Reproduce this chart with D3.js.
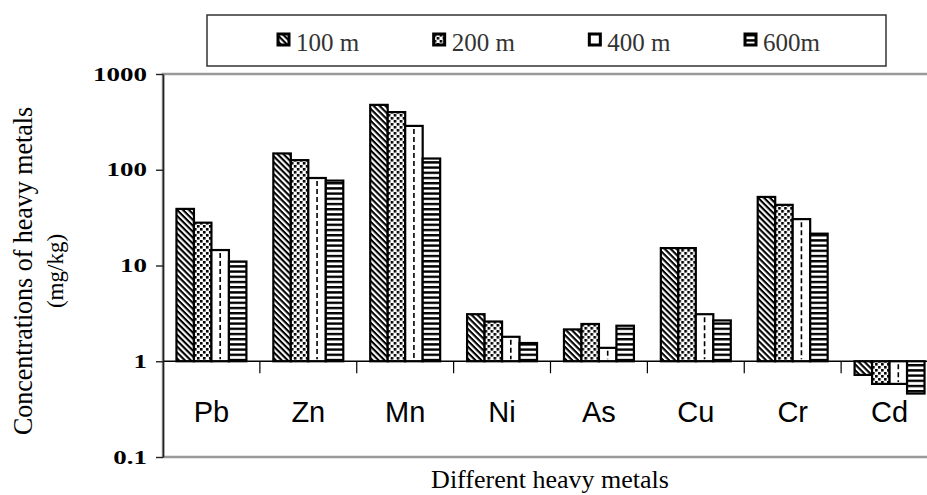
<!DOCTYPE html>
<html>
<head>
<meta charset="utf-8">
<script src="https://cdn.jsdelivr.net/npm/d3@7"></script>
<style>
  body { margin: 0; background: #fff; overflow: hidden; }
  svg { display: block; }
</style>
</head>
<body>
<div id="chart"></div>
<script>
// data
const categories = ["Pb", "Zn", "Mn", "Ni", "As", "Cu", "Cr", "Cd"];
const seriesNames = ["100 m", "200 m", "400 m", "600m"];
const v100 = [39, 148, 476, 3.1, 2.15, 15.2, 52, 0.72];
const v200 = [28, 126, 400, 2.6, 2.45, 15.2, 43, 0.58];
const v400 = [14.5, 82, 287, 1.8, 1.38, 3.1, 30.5, 0.58];
const v600 = [11, 77, 131, 1.55, 2.35, 2.67, 21.5, 0.46];
const yTicks = [0.1, 1, 10, 100, 1000];

const W = 927, H = 495;
const PLOT = { left: 163, right: 938, top: 74, bottom: 457 };

const svg = d3.select("#chart").append("svg")
    .attr("width", W)
    .attr("height", H);

// fill patterns, one per series
const defs = svg.append("defs");

const p100 = defs.append("pattern").attr("id", "p100")
    .attr("patternUnits", "userSpaceOnUse")
    .attr("width", 4.2).attr("height", 4.2)
    .attr("patternTransform", "rotate(45)");
p100.append("rect").attr("width", 4.2).attr("height", 4.2).attr("fill", "#fff");
p100.append("rect").attr("width", 4.2).attr("height", 2.1).attr("fill", "#000");

const p200 = defs.append("pattern").attr("id", "p200")
    .attr("patternUnits", "userSpaceOnUse")
    .attr("width", 6).attr("height", 6);
p200.append("rect").attr("width", 6).attr("height", 6).attr("fill", "#fff");
p200.append("rect").attr("width", 2.6).attr("height", 2.6).attr("fill", "#000");
p200.append("rect").attr("x", 3).attr("y", 3).attr("width", 2.6).attr("height", 2.6).attr("fill", "#000");

const p600 = defs.append("pattern").attr("id", "p600")
    .attr("patternUnits", "userSpaceOnUse")
    .attr("width", 5).attr("height", 5.2);
p600.append("rect").attr("width", 5).attr("height", 5.2).attr("fill", "#fff");
p600.append("rect").attr("width", 5).attr("height", 2.4).attr("fill", "#000");

const fills = { "100 m": "url(#p100)", "200 m": "url(#p200)", "400 m": "#fff", "600m": "url(#p600)" };

// scales
const x = d3.scaleBand()
    .domain(categories)
    .range([PLOT.left, PLOT.right]);

const xs = d3.scaleBand()
    .domain(seriesNames)
    .range([x.bandwidth() * 0.139, x.bandwidth() * 0.861]);

const y = d3.scaleLog()
    .domain([0.1, 1000])
    .range([PLOT.bottom, PLOT.top]);

// plot area border (gray), runs off the right edge
svg.append("rect")
    .attr("x", PLOT.left)
    .attr("y", y(1000))
    .attr("width", 900)
    .attr("height", y(0.1) - y(1000))
    .attr("fill", "none")
    .attr("stroke", "#9a9a9a")
    .attr("stroke-width", 2.5);

// bars, built from the series arrays
const rows = [];
categories.forEach((c, i) => {
  [v100, v200, v400, v600].forEach((vals, j) => {
    rows.push({ cat: c, series: seriesNames[j], value: vals[i] });
  });
});

const base = y(1);
const bars = svg.append("g").selectAll("g")
    .data(rows)
    .enter()
    .append("g")
      .attr("transform", (d) => "translate(" + (x(d.cat) + xs(d.series)) + ",0)");

bars.append("rect")
    .attr("x", 0)
    .attr("y", (d) => Math.min(y(d.value), base))
    .attr("width", xs.bandwidth())
    .attr("height", (d) => Math.abs(base - y(d.value)))
    .attr("fill", (d) => fills[d.series])
    .attr("stroke", "#000")
    .attr("stroke-width", 2.2);

// dashed centre line for the 400 m bars
bars.filter((d) => d.series === "400 m")
  .append("line")
    .attr("x1", xs.bandwidth() / 2)
    .attr("x2", xs.bandwidth() / 2)
    .attr("y1", (d) => Math.min(y(d.value), base) + 3)
    .attr("y2", (d) => Math.max(y(d.value), base) - 2)
    .attr("stroke", "#000")
    .attr("stroke-width", 1.6)
    .attr("stroke-dasharray", "5,3");

// category axis, crossing at 1
svg.append("line")
    .attr("x1", PLOT.left).attr("x2", W)
    .attr("y1", base).attr("y2", base)
    .attr("stroke", "#000")
    .attr("stroke-width", 1.5);

svg.append("g").selectAll("line")
    .data(categories.slice(1))
    .enter()
    .append("line")
      .attr("x1", (d) => x(d)).attr("x2", (d) => x(d))
      .attr("y1", base).attr("y2", base + 12)
      .attr("stroke", "#000")
      .attr("stroke-width", 1.2);

svg.append("g").selectAll("text")
    .data(categories)
    .enter()
    .append("text")
      .attr("x", (d) => x(d) + x.bandwidth() / 2)
      .attr("y", 422)
      .attr("text-anchor", "middle")
      .style("font-family", "'Liberation Sans', Arial, sans-serif")
      .style("font-size", "29px")
      .text((d) => d);

// value axis
const yAxis = svg.append("g")
    .attr("transform", "translate(" + PLOT.left + ",0)")
    .call(d3.axisLeft(y)
      .tickValues(yTicks)
      .tickFormat(d3.format("~g"))
      .tickSize(7)
      .tickSizeOuter(0));

yAxis.select(".domain").attr("stroke", "#222").attr("stroke-width", 1.6);
yAxis.selectAll(".tick line").attr("stroke", "#222").attr("stroke-width", 1.4);
yAxis.selectAll(".tick text")
    .attr("x", 0)
    .attr("dy", "0.34em")
    .attr("transform", "translate(-16,0) scale(1.5,1)")
    .attr("fill", "#000")
    .style("font-family", "'Liberation Serif', 'Times New Roman', serif")
    .style("font-weight", "bold")
    .style("font-size", "18px");

// axis titles
const titleMid = 271;
svg.append("text")
    .attr("transform", "translate(32," + titleMid + ") rotate(-90)")
    .attr("text-anchor", "middle")
    .attr("textLength", 328)
    .attr("lengthAdjust", "spacingAndGlyphs")
    .style("font-family", "'Liberation Serif', 'Times New Roman', serif")
    .style("font-size", "27px")
    .text("Concentrations of heavy metals");

svg.append("text")
    .attr("transform", "translate(63," + titleMid + ") rotate(-90)")
    .attr("text-anchor", "middle")
    .style("font-family", "'Liberation Serif', 'Times New Roman', serif")
    .style("font-size", "23px")
    .text("(mg/kg)");

svg.append("text")
    .attr("x", 550)
    .attr("y", 488)
    .attr("text-anchor", "middle")
    .style("font-family", "'Liberation Serif', 'Times New Roman', serif")
    .style("font-size", "26px")
    .text("Different heavy metals");

// legend
const legend = svg.append("g");
legend.append("rect")
    .attr("x", 207).attr("y", 15)
    .attr("width", 679).attr("height", 51)
    .attr("fill", "#fff")
    .attr("stroke", "#333")
    .attr("stroke-width", 1.5);

const lx = d3.scaleLinear().domain([0, seriesNames.length - 1]).range([278, 745]);

const items = legend.selectAll("g.item")
    .data(seriesNames)
    .enter()
    .append("g")
      .attr("class", "item")
      .attr("transform", (d, i) => "translate(" + lx(i) + ",34)");

items.append("rect")
    .attr("width", 11).attr("height", 11)
    .attr("fill", (d) => fills[d])
    .attr("stroke", "#000")
    .attr("stroke-width", 3);

items.append("text")
    .attr("x", 18)
    .attr("y", 17)
    .attr("fill", "#333")
    .style("font-family", "'Liberation Serif', 'Times New Roman', serif")
    .style("font-size", "25px")
    .text((d) => d);
</script>
</body>
</html>
